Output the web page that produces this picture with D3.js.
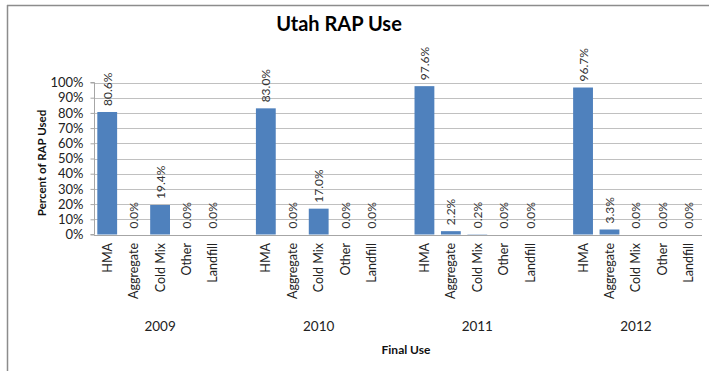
<!DOCTYPE html>
<html><head><meta charset="utf-8">
<script src="https://cdn.jsdelivr.net/npm/d3@7"></script>
<style>body{margin:0;background:#fff}svg{display:block}text{font-family:Lato,"Open Sans",sans-serif}</style>
</head><body>
<script>
const years = ["2009","2010","2011","2012"];
const uses = ["HMA","Aggregate","Cold Mix","Other","Landfill"];
const values2009 = [80.6, 0.0, 19.4, 0.0, 0.0];
const values2010 = [83.0, 0.0, 17.0, 0.0, 0.0];
const values2011 = [97.6, 2.2, 0.2, 0.0, 0.0];
const values2012 = [96.7, 3.3, 0.0, 0.0, 0.0];
const yTicks = [0,10,20,30,40,50,60,70,80,90,100];
const seriesValues = [values2009, values2010, values2011, values2012];

(function(){
const W = 709, H = 371;
const svg = d3.select("body").append("svg").attr("width", W).attr("height", H);

// frame
svg.append("line").attr("x1",7).attr("x2",W).attr("y1",5.5).attr("y2",5.5).attr("stroke","#8c8c8c").attr("stroke-width",1.5);
svg.append("line").attr("x1",7.5).attr("x2",7.5).attr("y1",5).attr("y2",H).attr("stroke","#8c8c8c").attr("stroke-width",1.5);

// flat categories: 5 uses per year + one blank slot between years
const slots = [];
years.forEach((yr, gi) => {
  uses.forEach((u, ui) => slots.push({key: yr + "|" + u, year: yr, use: u, value: seriesValues[gi][ui]}));
  if (gi < years.length - 1) slots.push({key: yr + "|blank", blank: true});
});

const pLeft = 94, pRight = 702, pTop = 82.5, pBottom = 234.5;
const x = d3.scaleBand().domain(slots.map(d => d.key)).range([pLeft, pRight]).paddingInner(0.25).paddingOuter(0.125);
const y = d3.scaleLinear().domain([0, 100]).range([pBottom, pTop]);

// grid
svg.append("g").selectAll("line").data(yTicks).join("line")
  .attr("x1", pLeft).attr("x2", pRight)
  .attr("y1", d => Math.round(y(d)) + 0.5).attr("y2", d => Math.round(y(d)) + 0.5)
  .attr("stroke", d => d === 0 ? "#a6a6a6" : "#c0c0c0").attr("stroke-width", 1);

// y axis
const yAxis = d3.axisLeft(y).tickValues(yTicks).tickFormat(d => d + "%").tickSize(4).tickPadding(7);
const ga = svg.append("g").attr("transform", `translate(${pLeft + 0.5},0)`).call(yAxis);
ga.select(".domain").attr("stroke", "#a6a6a6").attr("d", `M-4,${pTop}H0V${pBottom}H-4`);
ga.selectAll(".tick line").attr("stroke", "#a6a6a6");
ga.selectAll(".tick text").attr("font-size", 13).attr("fill", "#222").attr("font-family", "Lato,sans-serif");

// bars
const data = slots.filter(d => !d.blank);
svg.append("g").selectAll("rect").data(data).join("rect")
  .attr("x", d => x(d.key)).attr("width", x.bandwidth())
  .attr("y", d => y(d.value)).attr("height", d => pBottom - y(d.value))
  .attr("fill", "#4f81bd");

// data labels
svg.append("g").selectAll("text").data(data).join("text")
  .attr("transform", d => `translate(${x(d.key) + x.bandwidth()/2 + 4.5},${y(d.value) - 6}) rotate(-90)`)
  .attr("font-size", 12).attr("fill", "#333").text(d => d.value.toFixed(1) + "%");

// category labels
svg.append("g").selectAll("text").data(data).join("text")
  .attr("transform", d => `translate(${x(d.key) + x.bandwidth()/2 + 4.5},243) rotate(-90)`)
  .attr("text-anchor", "end").attr("font-size", 12.5).attr("fill", "#222").text(d => d.use);

// year labels
svg.append("g").selectAll("text").data(years).join("text")
  .attr("x", yr => x(yr + "|Cold Mix") + x.bandwidth()/2).attr("y", 331)
  .attr("text-anchor", "middle").attr("font-size", 13.5).attr("fill", "#222").text(d => d);

// title
svg.append("text").attr("x", 339).attr("y", 31).attr("text-anchor", "middle")
  .attr("font-size", 20).attr("font-weight", "bold").attr("fill", "#000").text("Utah RAP Use");

// axis titles
svg.append("text").attr("x", 406).attr("y", 354).attr("text-anchor", "middle")
  .attr("font-size", 12).attr("font-weight", "bold").attr("fill", "#111").text("Final Use");
svg.append("text").attr("transform", "translate(46,163) rotate(-90)").attr("text-anchor", "middle")
  .attr("font-size", 11.5).attr("font-weight", "bold").attr("fill", "#111").text("Percent of RAP Used");
})();
</script>
</body></html>
